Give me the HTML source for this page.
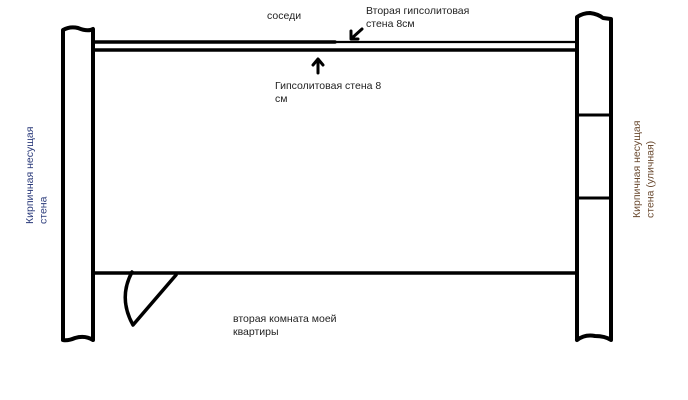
<!DOCTYPE html>
<html><head><meta charset="utf-8"><style>
html,body{margin:0;padding:0;background:#fff;}
body{width:688px;height:400px;position:relative;overflow:hidden;font-family:"Liberation Sans",sans-serif;font-size:10.5px;color:#222;}
.t{position:absolute;white-space:nowrap;line-height:13px;}
.v{position:absolute;white-space:nowrap;line-height:13.5px;writing-mode:vertical-rl;transform:rotate(180deg);text-align:start;height:104px;}
</style></head><body>
<svg width="688" height="400" style="position:absolute;left:0;top:0" fill="none" stroke="#000" stroke-linecap="round" stroke-linejoin="round">
<path d="M63 340 L63 30 Q70 26 78 28 Q88 32 93 29 L93 340 Q85 335 75 338 Q68 341 63 340" stroke-width="4"/>
<path d="M577 340 L577 17 Q583 13 590 13 Q598 14 603 18 L611 19 L611 340 Q605 336 595 336 Q585 334 577 340" stroke-width="4"/>
<path d="M577 115 L611 115 M577 198 L611 198" stroke-width="3"/>
<path d="M93 42 L335 42" stroke-width="3.5"/>
<path d="M335 42 L577 42" stroke-width="2.2"/>
<path d="M93 50 L577 50" stroke-width="3.5"/>
<path d="M93 273 L577 273" stroke-width="3.5"/>
<path d="M132 272 Q118 298 133 325 L176 275" stroke-width="3.5"/>
<path d="M318 73 L318 60 M313 65 L318 59 L323 65" stroke-width="3"/>
<path d="M362 29 L352 38 M351 31 L351 39 L358 39" stroke-width="3"/>
</svg>
<div class="t" style="left:267px;top:10px;">соседи</div>
<div class="t" style="left:366px;top:5px;">Вторая гипсолитовая<br>стена 8см</div>
<div class="t" style="left:275px;top:80px;">Гипсолитовая стена 8<br>см</div>
<div class="t" style="left:233px;top:313px;">вторая комната моей<br>квартиры</div>
<div class="v" style="left:24px;top:120px;color:#2a3a7a;">Кирпичная несущая<br>стена</div>
<div class="v" style="left:631px;top:114px;color:#6a4a30;">Кирпичная несущая<br>стена (уличная)</div>
</body></html>
